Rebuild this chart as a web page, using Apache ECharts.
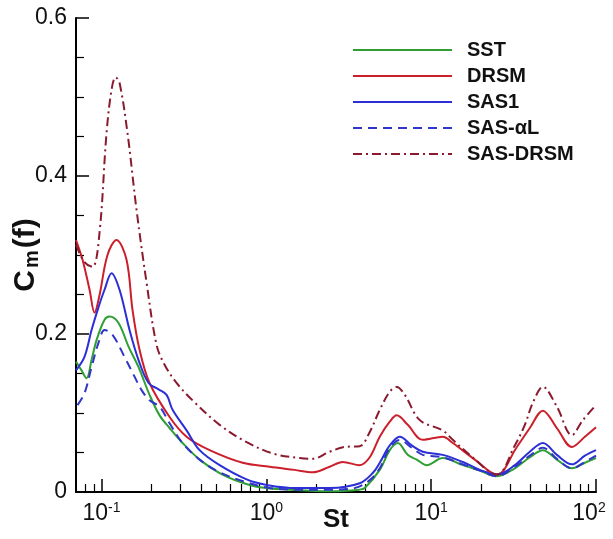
<!DOCTYPE html>
<html>
<head>
<meta charset="utf-8">
<script src="https://cdn.jsdelivr.net/npm/echarts@6/dist/echarts.min.js"></script>
<style>html,body{margin:0;padding:0;background:#fff;}#c{width:613px;height:539px;}</style>
</head>
<body>
<div id="c"></div>
<script>
// ---- data (St = Strouhal number, Cm = C_m(f)) ----
const seriesNames = ['SST', 'DRSM', 'SAS1', 'SAS-αL', 'SAS-DRSM'];

const sstSt = [0.07,0.0756,0.0811,0.087,0.0932,0.1043,0.1118,0.1268,0.1458,0.1677,0.1956,0.225,0.2588,0.3102,0.3936,0.5207,0.6887,0.9106,1.385,2.423,3.686,3.953,4.875,5.606,6.268,7.209,8.177,9.404,11.76,15.56,19.73,25.03,32.18,39.68,47.61,57.89,71.41,85.63,100];
const sstCm = [0.165,0.154,0.144,0.167,0.192,0.218,0.222,0.214,0.184,0.158,0.123,0.097,0.081,0.062,0.041,0.024,0.013,0.006,0.003,0.001,0.003,0.005,0.028,0.053,0.062,0.047,0.041,0.034,0.043,0.034,0.027,0.020,0.030,0.044,0.053,0.041,0.030,0.037,0.043];

const drsmSt = [0.07,0.0767,0.0846,0.0907,0.0972,0.1087,0.1233,0.1418,0.1543,0.1701,0.1956,0.2588,0.3281,0.4527,0.718,1.047,1.485,1.91,2.423,2.905,3.686,4.24,4.875,5.606,6.181,7.209,8.892,11.76,13.53,18.4,25.03,33.09,39.68,47.61,57.89,71.41,85.63,100];
const drsmCm = [0.319,0.294,0.256,0.227,0.249,0.300,0.319,0.294,0.230,0.180,0.138,0.095,0.070,0.053,0.037,0.032,0.028,0.025,0.032,0.038,0.034,0.044,0.070,0.089,0.097,0.085,0.066,0.070,0.062,0.041,0.022,0.057,0.081,0.103,0.081,0.057,0.070,0.082];

const sas1St = [0.07,0.0788,0.087,0.0959,0.1043,0.115,0.1286,0.1479,0.1677,0.1929,0.2219,0.2481,0.2698,0.3281,0.3936,0.5207,0.7593,1.004,1.528,2.423,3.686,4.421,4.875,5.606,6.446,7.625,8.892,11.76,15.56,19.73,25.03,32.18,39.68,47.61,57.89,71.41,85.63,100];
const sas1Cm = [0.154,0.171,0.205,0.234,0.256,0.277,0.256,0.205,0.167,0.138,0.130,0.123,0.104,0.078,0.053,0.034,0.016,0.009,0.005,0.005,0.011,0.024,0.037,0.059,0.070,0.059,0.051,0.047,0.038,0.028,0.022,0.034,0.051,0.062,0.047,0.035,0.046,0.053];

const sasAlSt = [0.0715,0.0788,0.087,0.0959,0.1043,0.1166,0.1379,0.1586,0.175,0.1956,0.225,0.2588,0.3102,0.3936,0.5207,0.7384,1.047,1.593,2.423,3.437,4.24,4.875,5.606,6.446,7.625,8.892,11.76,15.56,19.73,25.03,32.18,39.68,47.61,57.89,71.41,85.63,100];
const sasAlCm = [0.110,0.125,0.158,0.189,0.205,0.199,0.171,0.146,0.129,0.116,0.108,0.087,0.062,0.041,0.025,0.013,0.005,0.003,0.003,0.005,0.015,0.030,0.056,0.066,0.056,0.047,0.044,0.035,0.027,0.020,0.032,0.046,0.056,0.042,0.030,0.038,0.046];

const sasDrsmSt = [0.07,0.0788,0.0882,0.0972,0.1072,0.115,0.1216,0.1286,0.1438,0.1631,0.1876,0.2158,0.2413,0.2853,0.3568,0.5207,0.7593,1.123,1.593,1.91,2.423,2.988,3.686,4.24,4.875,5.606,6.181,6.913,8.527,11.76,13.53,17.16,25.03,32.18,37.01,41.39,47.61,57.89,71.41,83.27,100];
const sasDrsmCm = [0.313,0.291,0.285,0.328,0.454,0.509,0.525,0.518,0.454,0.357,0.265,0.186,0.161,0.138,0.116,0.085,0.063,0.048,0.043,0.042,0.051,0.057,0.058,0.076,0.104,0.127,0.133,0.123,0.091,0.078,0.066,0.047,0.022,0.059,0.085,0.113,0.133,0.108,0.072,0.091,0.110];

// axis ticks
const xMin = 0.07, xMax = 100;
const xMajorTicks = [0.1, 1, 10, 100];
const xMinorTicks = [0.08,0.09,0.2,0.3,0.4,0.5,0.6,0.7,0.8,0.9,2,3,4,5,6,7,8,9,20,30,40,50,60,70,80,90];
const yTicks = [0, 0.2, 0.4, 0.6];

// ---- chart ----
const pair = (xs, ys) => xs.map((x, i) => [x, ys[i]]);
const chart = echarts.init(document.getElementById('c'), null, {renderer: 'canvas'});
const FONT = '"Liberation Sans", Arial, Helvetica, sans-serif';
const lg = Math.log10;

const styles = [
  {color: '#2f9e34', type: 'solid'},
  {color: '#cc1f2c', type: 'solid'},
  {color: '#2b2fd6', type: 'solid'},
  {color: '#3136c8', type: [9, 6]},
  {color: '#8a1a2e', type: [9, 4, 2, 4]}
];
const datasets = [pair(sstSt, sstCm), pair(drsmSt, drsmCm), pair(sas1St, sas1Cm), pair(sasAlSt, sasAlCm), pair(sasDrsmSt, sasDrsmCm)];
const lastExp = Math.round(lg(xMax));

const option = {
  backgroundColor: '#ffffff',
  animation: false,
  grid: {left: 76, right: 17, top: 18, bottom: 47, containLabel: false, outerBoundsMode: 'none'},
  legend: {
    orient: 'vertical', left: 347, top: 35,
    itemWidth: 99, itemHeight: 14, itemGap: 6,
    data: seriesNames,
    itemStyle: {opacity: 0},
    textStyle: {fontFamily: FONT, fontSize: 20, fontWeight: 'bold', color: '#111', lineHeight: 20, padding: [0, 0, 0, 10]}
  },
  xAxis: [
    {
      type: 'log', logBase: 10, min: xMin, max: xMax, position: 'bottom',
      axisLine: {show: true, onZero: false, lineStyle: {color: '#000', width: 2}},
      axisTick: {show: false}, axisLabel: {show: false}, splitLine: {show: false}, minorTick: {show: false},
      name: 'St', nameLocation: 'middle', nameGap: 15, nameMoveOverlap: false,
      nameTextStyle: {fontFamily: FONT, fontSize: 26, fontWeight: 'bold', color: '#111'}
    },
    {
      type: 'value', min: lg(xMin), max: lg(xMax), position: 'bottom',
      axisLine: {show: false, onZero: false},
      axisTick: {show: true, inside: true, length: 13, customValues: xMajorTicks.map(lg), lineStyle: {color: '#000', width: 1.5}},
      axisLabel: {
        show: true, margin: 9, customValues: xMajorTicks.map(lg), hideOverlap: false,
        formatter: v => {
          const e = Math.round(v);
          return '{b|10}{s|' + e + '}' + (e === lastExp ? '{p|}' : '');
        },
        rich: {
          b: {fontFamily: FONT, fontSize: 23, color: '#111', lineHeight: 26},
          s: {fontFamily: FONT, fontSize: 14, color: '#111', lineHeight: 26, verticalAlign: 'top'},
          p: {width: 14, lineHeight: 26}
        }
      },
      splitLine: {show: false}
    },
    {
      type: 'value', min: lg(xMin), max: lg(xMax), position: 'bottom',
      axisLine: {show: false, onZero: false},
      axisTick: {show: true, inside: true, length: 8, customValues: xMinorTicks.map(lg), lineStyle: {color: '#000', width: 1.2}},
      axisLabel: {show: false}, splitLine: {show: false}
    }
  ],
  yAxis: {
    type: 'value', min: 0, max: 0.6, interval: 0.2,
    axisLine: {show: true, onZero: false, lineStyle: {color: '#000', width: 2}},
    axisTick: {show: true, inside: true, length: 13, lineStyle: {color: '#000', width: 1.5}},
    minorTick: {show: true, splitNumber: 4, length: 8, lineStyle: {color: '#000', width: 1.2}},
    axisLabel: {
      margin: 9, fontFamily: FONT, fontSize: 23, color: '#111',
      customValues: yTicks,
      formatter: v => v === 0 ? '0' : v.toFixed(1)
    },
    splitLine: {show: false},
    name: '{c|C}{sub|m}{c|(f)}', nameLocation: 'middle', nameGap: 34, nameRotate: 90, nameMoveOverlap: false,
    nameTextStyle: {
      fontFamily: FONT, fontSize: 30, fontWeight: 'bold', color: '#111',
      rich: {
        c: {fontFamily: FONT, fontSize: 30, fontWeight: 'bold', color: '#111', padding: [0, 1, 0, 1]},
        sub: {fontFamily: FONT, fontSize: 20, fontWeight: 'bold', color: '#111', verticalAlign: 'bottom', padding: [12, 1, 0, 1]}
      }
    }
  },
  series: seriesNames.map((n, i) => ({
    name: n, type: 'line', xAxisIndex: 0, yAxisIndex: 0,
    data: datasets[i], showSymbol: false, symbol: 'none', smooth: 0.35,
    lineStyle: {color: styles[i].color, width: 2, type: styles[i].type},
    itemStyle: {color: styles[i].color},
    z: 2 + i
  }))
};
chart.setOption(option);
</script>
</body>
</html>
